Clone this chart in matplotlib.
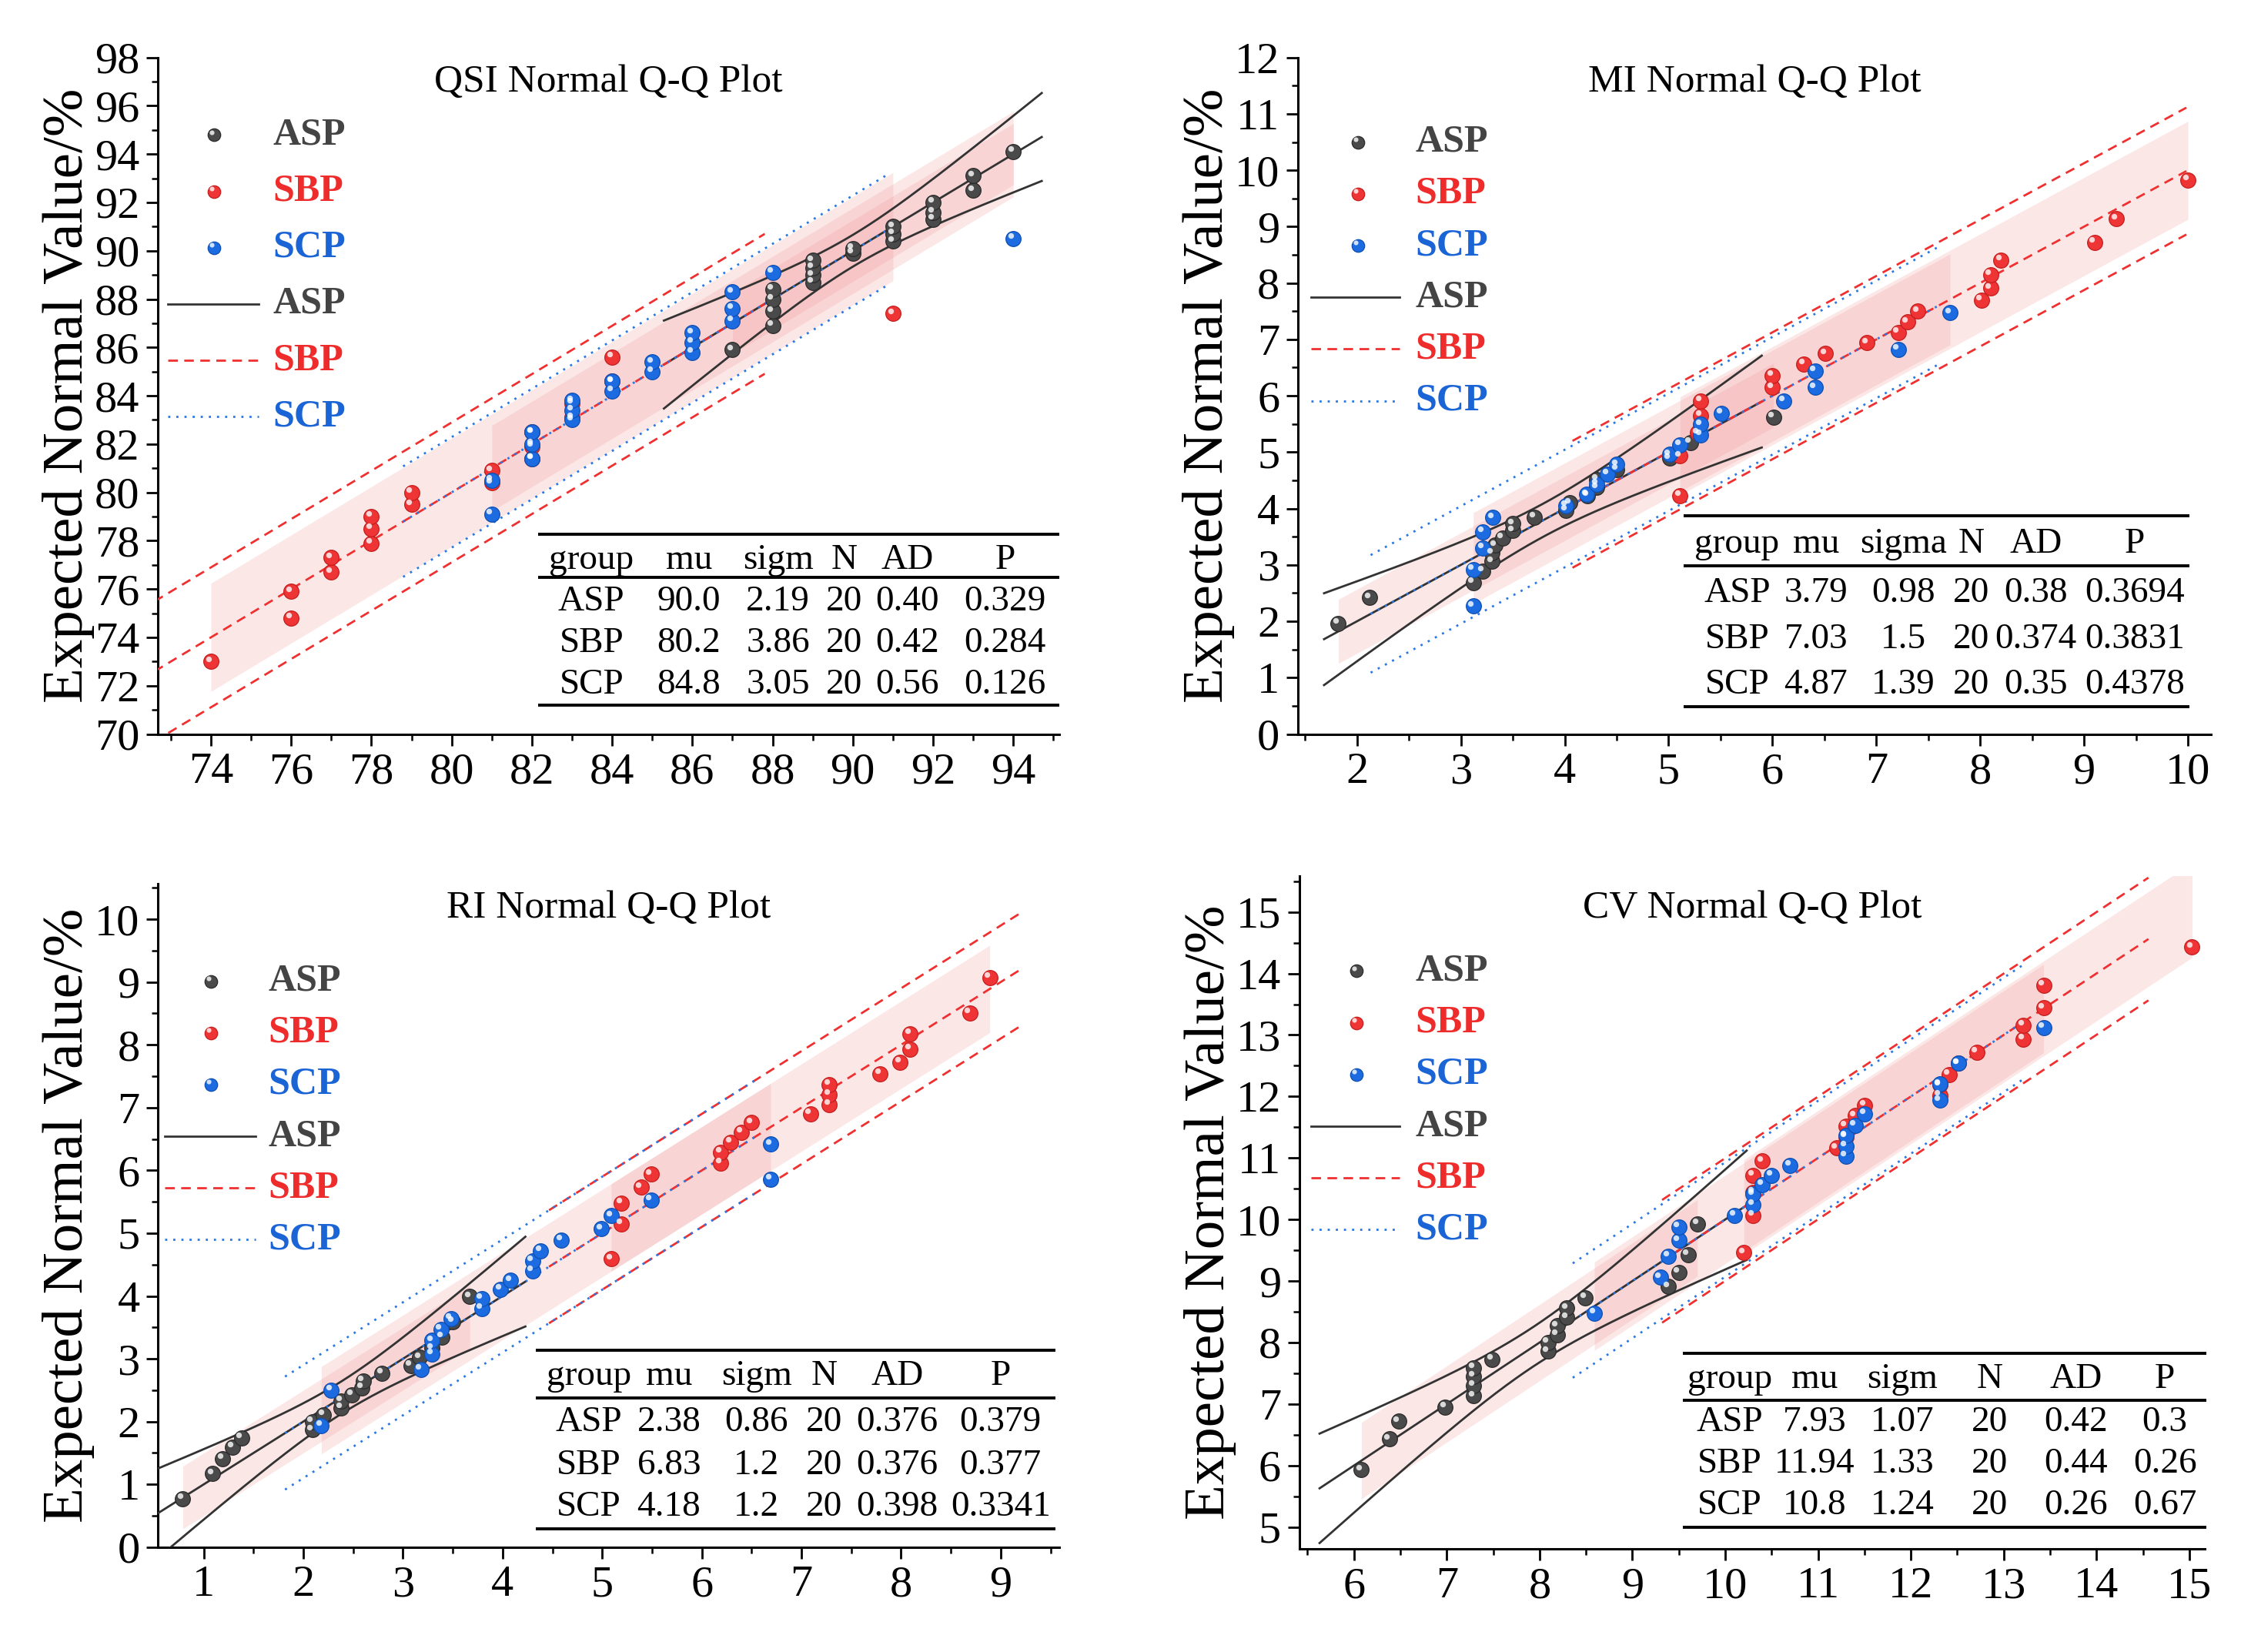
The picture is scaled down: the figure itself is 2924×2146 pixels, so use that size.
"""
Normal Q-Q plots of QSI, MI, RI and CV for the ASP, SBP and SCP groups
"""

import numpy as np
import matplotlib.pyplot as plt
import matplotlib.transforms as mtransforms
from matplotlib.ticker import MultipleLocator

plt.rcParams['font.family'] = ['Liberation Serif', 'DejaVu Serif']

GROUPS = ['ASP', 'SBP', 'SCP']

# ---------------- data ----------------
# QSI
qsi_asp_x = [87, 88, 88, 88, 88, 89, 89, 89, 89, 90, 90, 91, 91, 91, 92, 92, 92, 93, 93, 94]
qsi_asp_y = [85.9, 86.9, 87.5, 88.0, 88.4, 88.7, 89.0, 89.3, 89.6, 89.9,
             90.1, 90.4, 90.7, 91.0, 91.3, 91.6, 92.0, 92.5, 93.1, 94.1]
qsi_sbp_x = [74, 76, 76, 77, 77, 78, 78, 78, 79, 79, 81, 81, 82, 82, 82, 83, 83, 84, 84, 91]
qsi_sbp_y = [73.0, 74.8, 75.9, 76.7, 77.3, 77.9, 78.5, 79.0, 79.5, 80.0,
             80.4, 80.9, 81.4, 81.9, 82.5, 83.1, 83.7, 84.6, 85.6, 87.4]
qsi_scp_x = [81, 81, 82, 82, 82, 83, 83, 83, 84, 84, 85, 85, 86, 86, 86, 87, 87, 87, 88, 94]
qsi_scp_y = [79.1, 80.5, 81.4, 82.0, 82.5, 83.0, 83.4, 83.8, 84.2, 84.6,
             85.0, 85.4, 85.8, 86.2, 86.6, 87.1, 87.6, 88.3, 89.1, 90.5]
qsi_mu = ['90.0', '80.2', '84.8']
qsi_sigma = ['2.19', '3.86', '3.05']
qsi_ad = ['0.40', '0.42', '0.56']
qsi_p = ['0.329', '0.284', '0.126']

# MI
mi_asp_x = [1.82, 2.12, 3.12, 3.21, 3.30, 3.30, 3.33, 3.40, 3.50, 3.50,
            3.71, 4.01, 4.05, 4.22, 4.31, 4.31, 4.50, 5.01, 5.21, 6.01]
mi_asp_y = [1.96, 2.42, 2.69, 2.89, 3.06, 3.21, 3.35, 3.48, 3.61, 3.73,
            3.85, 3.97, 4.10, 4.23, 4.37, 4.52, 4.69, 4.89, 5.17, 5.62]
mi_sbp_x = [5.11, 5.11, 5.28, 5.31, 5.31, 6.00, 6.00, 6.30, 6.51, 6.91,
            7.21, 7.30, 7.40, 8.01, 8.10, 8.10, 8.20, 9.10, 9.31, 10.0]
mi_sbp_y = [4.23, 4.93, 5.34, 5.65, 5.91, 6.15, 6.36, 6.56, 6.75, 6.94,
            7.12, 7.31, 7.50, 7.70, 7.91, 8.15, 8.41, 8.72, 9.14, 9.83]
mi_scp_x = [3.12, 3.12, 3.21, 3.21, 3.31, 4.01, 4.21, 4.31, 4.41, 4.50,
            5.01, 5.11, 5.31, 5.31, 5.51, 6.11, 6.41, 6.41, 7.21, 7.71]
mi_scp_y = [2.27, 2.92, 3.30, 3.59, 3.84, 4.05, 4.25, 4.43, 4.61, 4.78,
            4.96, 5.13, 5.31, 5.49, 5.69, 5.91, 6.15, 6.44, 6.82, 7.47]
mi_mu = ['3.79', '7.03', '4.87']
mi_sigma = ['0.98', '1.5', '1.39']
mi_ad = ['0.38', '0.374', '0.35']
mi_p = ['0.3694', '0.3831', '0.4378']

# RI
ri_asp_x = [0.79, 1.09, 1.19, 1.29, 1.38, 2.09, 2.09, 2.20, 2.38, 2.38,
            2.49, 2.59, 2.60, 2.79, 3.08, 3.17, 3.29, 3.39, 3.50, 3.67]
ri_asp_y = [0.77, 1.17, 1.41, 1.59, 1.74, 1.87, 2.00, 2.11, 2.22, 2.33,
            2.43, 2.54, 2.65, 2.77, 2.89, 3.02, 3.17, 3.35, 3.59, 3.99]
ri_sbp_x = [5.09, 5.19, 5.19, 5.39, 5.49, 6.19, 6.19, 6.29, 6.40, 6.50,
            7.09, 7.28, 7.28, 7.28, 7.79, 7.99, 8.09, 8.09, 8.69, 8.89]
ri_sbp_y = [4.59, 5.15, 5.48, 5.73, 5.94, 6.12, 6.29, 6.45, 6.61, 6.76,
            6.90, 7.05, 7.21, 7.37, 7.54, 7.72, 7.93, 8.18, 8.51, 9.07]
ri_scp_x = [2.18, 2.28, 3.18, 3.29, 3.29, 3.38, 3.48, 3.79, 3.79, 3.98,
            4.08, 4.30, 4.30, 4.38, 4.59, 4.99, 5.09, 5.49, 6.69, 6.69]
ri_scp_y = [1.94, 2.50, 2.83, 3.08, 3.29, 3.47, 3.64, 3.80, 3.96, 4.11,
            4.25, 4.40, 4.56, 4.72, 4.89, 5.07, 5.28, 5.53, 5.86, 6.42]
ri_mu = ['2.38', '6.83', '4.18']
ri_sigma = ['0.86', '1.2', '1.2']
ri_ad = ['0.376', '0.376', '0.398']
ri_p = ['0.379', '0.377', '0.3341']

# CV
cv_asp_x = [6.08, 6.38, 6.48, 6.98, 7.29, 7.29, 7.29, 7.29, 7.49, 8.09,
            8.09, 8.19, 8.19, 8.29, 8.29, 8.49, 9.39, 9.50, 9.60, 9.70]
cv_asp_y = [5.93, 6.43, 6.72, 6.95, 7.13, 7.30, 7.45, 7.59, 7.73, 7.86,
            8.00, 8.13, 8.27, 8.41, 8.56, 8.73, 8.91, 9.14, 9.43, 9.93]
cv_sbp_x = [10.20, 10.30, 10.30, 10.30, 10.40, 11.20, 11.30, 11.30, 11.40, 11.50,
            12.31, 12.31, 12.41, 12.51, 12.71, 13.21, 13.21, 13.43, 13.43, 15.03]
cv_sbp_y = [9.46, 10.07, 10.44, 10.72, 10.95, 11.16, 11.34, 11.52, 11.69, 11.86,
            12.02, 12.19, 12.36, 12.54, 12.72, 12.93, 13.16, 13.44, 13.81, 14.43]
cv_scp_x = [8.59, 9.30, 9.39, 9.50, 9.50, 10.10, 10.30, 10.30, 10.40, 10.50,
            10.70, 11.30, 11.30, 11.30, 11.40, 11.50, 12.31, 12.31, 12.51, 13.43]
cv_scp_y = [8.48, 9.06, 9.40, 9.66, 9.88, 10.07, 10.24, 10.41, 10.57, 10.72,
            10.88, 11.03, 11.19, 11.36, 11.53, 11.72, 11.94, 12.20, 12.54, 13.12]
cv_mu = ['7.93', '11.94', '10.8']
cv_sigma = ['1.07', '1.33', '1.24']
cv_ad = ['0.42', '0.44', '0.26']
cv_p = ['0.3', '0.26', '0.67']

N_SAMPLES = ['20', '20', '20']

# ---------------- styles ----------------
POINT_COLORS = {'ASP': '#4a4a4a', 'SBP': '#ee3434', 'SCP': '#1c6be0'}
EDGE_COLORS = {'ASP': '#2a2a2a', 'SBP': '#c41e1e', 'SCP': '#0e4fb0'}
TEXT_COLORS = {'ASP': '#444444', 'SBP': '#ee2c2c', 'SCP': '#1a64d6'}
LINE_COLORS = {'ASP': '#333333', 'SBP': '#f03030', 'SCP': '#2a78e4'}
LINE_STYLES = {'ASP': '-', 'SBP': (0, (4.5, 3.0)), 'SCP': (0, (1.0, 2.8))}
BAND_COLOR = '#f08a8a'
FIG_W, FIG_H = 1568.0, 1150.0   # layout measured in reference display pixels
DPI = 100

PANELS = [
    dict(name='QSI', box=(110, 40, 738, 511), xlim=(72.68, 95.15), ylim=(70, 98),
         xmaj=2, xmin=1, ymaj=2, ymin=1,
         data=[(qsi_asp_x, qsi_asp_y), (qsi_sbp_x, qsi_sbp_y), (qsi_scp_x, qsi_scp_y)],
         mu=qsi_mu, sigma=qsi_sigma, ad=qsi_ad, p=qsi_p, sig_head='sigm',
         title_y=57, leg=(117, 180, 149, 190, 94, 39.2),
         table=dict(x=(375, 738), lines=(372, 402, 491), head=390, rows=(419, 448, 477),
                    cols=(412, 480, 542, 588, 632, 700))),
    dict(name='MI', box=(904, 40, 1540, 511), xlim=(1.43, 10.22), ylim=(0, 12),
         xmaj=1, xmin=0.5, ymaj=1, ymin=0.5,
         data=[(mi_asp_x, mi_asp_y), (mi_sbp_x, mi_sbp_y), (mi_scp_x, mi_scp_y)],
         mu=mi_mu, sigma=mi_sigma, ad=mi_ad, p=mi_p, sig_head='sigma',
         title_y=57, leg=(913, 975, 946, 986, 99, 36),
         table=dict(x=(1173, 1525), lines=(359, 394, 492), head=379, rows=(413, 445, 477),
                    cols=(1210, 1265, 1326, 1373, 1418, 1487))),
    dict(name='RI', box=(110, 615, 738, 1077), xlim=(0.54, 9.59), ylim=(0, 10.57),
         xmaj=1, xmin=0.5, ymaj=1, ymin=0.5,
         data=[(ri_asp_x, ri_asp_y), (ri_sbp_x, ri_sbp_y), (ri_scp_x, ri_scp_y)],
         mu=ri_mu, sigma=ri_sigma, ad=ri_ad, p=ri_p, sig_head='sigm',
         title_y=632, leg=(115, 178, 147, 187, 683, 36),
         table=dict(x=(373, 735), lines=(940, 973, 1064), head=958, rows=(990, 1020, 1049),
                    cols=(410, 466, 527, 574, 625, 697))),
    dict(name='CV', box=(905, 610, 1536, 1078), xlim=(5.41, 15.17), ylim=(4.65, 15.58),
         xmaj=1, xmin=0.5, ymaj=1, ymin=0.5,
         data=[(cv_asp_x, cv_asp_y), (cv_sbp_x, cv_sbp_y), (cv_scp_x, cv_scp_y)],
         mu=cv_mu, sigma=cv_sigma, ad=cv_ad, p=cv_p, sig_head='sigm',
         title_y=632, leg=(913, 975, 945, 986, 676, 36),
         table=dict(x=(1172, 1537), lines=(942, 975, 1063), head=960, rows=(990, 1019, 1048),
                    cols=(1205, 1264, 1325, 1386, 1446, 1508))),
]


def to_axes(box, px, py):
    """display-pixel position -> axes fraction"""
    left, top, right, bottom = box
    return (px - left) / (right - left), (bottom - py) / (bottom - top)


def draw_balls(ax, fig, x, y, group, size=200, clip=True, transform=None):
    trans = ax.transData if transform is None else transform
    ax.scatter(x, y, s=size, color=POINT_COLORS[group], edgecolors=EDGE_COLORS[group],
               linewidths=0.9, zorder=5, transform=trans, clip_on=clip)
    hl = mtransforms.offset_copy(trans, fig=fig, x=-2.4, y=2.6, units='points')
    ax.scatter(x, y, s=size * 0.14, color='white', alpha=0.8, linewidths=0,
               zorder=6, transform=hl, clip_on=clip)


def draw_panel(fig, pan):
    left, top, right, bottom = pan['box']
    ax = fig.add_axes([left / FIG_W, 1 - bottom / FIG_H,
                       (right - left) / FIG_W, (bottom - top) / FIG_H])
    box = pan['box']

    # confidence bands and reference lines
    for k, g in enumerate(GROUPS):
        mu = float(pan['mu'][k])
        sd = float(pan['sigma'][k])
        gx = np.array(pan['data'][k][0])
        xb = np.linspace(gx.min(), gx.max(), 50)
        ax.fill_between(xb, xb - 0.58 * sd, xb + 0.58 * sd, color=BAND_COLOR,
                        alpha=0.2, linewidth=0, zorder=1)
        if g == 'ASP':
            xl = np.linspace(mu - 2.15 * sd, mu + 2.15 * sd, 200)
            t = (xl - mu) / sd
            half = sd * np.sqrt(0.09 + 0.13 * t ** 2)
        else:
            xl = np.linspace(mu - 1.97 * sd, mu + 1.97 * sd, 200)
            half = 0.75 * sd * np.ones_like(xl)
        for off in (-half, 0 * half, half):
            ax.plot(xl, xl + off, color=LINE_COLORS[g], linestyle=LINE_STYLES[g],
                    lw=2.0, zorder=3)

    # points
    for k, g in enumerate(GROUPS):
        draw_balls(ax, fig, pan['data'][k][0], pan['data'][k][1], g)

    ax.set_xlim(*pan['xlim'])
    ax.set_ylim(*pan['ylim'])
    ax.xaxis.set_major_locator(MultipleLocator(pan['xmaj']))
    ax.xaxis.set_minor_locator(MultipleLocator(pan['xmin']))
    ax.yaxis.set_major_locator(MultipleLocator(pan['ymaj']))
    ax.yaxis.set_minor_locator(MultipleLocator(pan['ymin']))
    for s in ('top', 'right'):
        ax.spines[s].set_visible(False)
    for s in ('left', 'bottom'):
        ax.spines[s].set_linewidth(2.2)
    ax.tick_params(which='major', direction='out', length=11, width=2.0,
                   labelsize=42, pad=6)
    ax.tick_params(which='minor', direction='out', length=6, width=1.8)
    ax.set_ylabel('Expected Normal Value/%', fontsize=54, labelpad=0)

    tx, ty = to_axes(box, 0, pan['title_y'])
    ax.text(0.5, ty, pan['name'] + ' Normal Q-Q Plot', transform=ax.transAxes,
            ha='center', va='center', fontsize=37, zorder=8)

    # legend drawn by hand
    lx0, lx1, mx, txt_x, y0, dy = pan['leg']
    for i in range(6):
        g = GROUPS[i % 3]
        py = y0 + i * dy
        fx, fy = to_axes(box, txt_x, py)
        if i < 3:
            mfx, mfy = to_axes(box, mx, py)
            draw_balls(ax, fig, [mfx], [mfy], g, size=140, clip=False,
                       transform=ax.transAxes)
        else:
            a0, _ = to_axes(box, lx0, py)
            a1, _ = to_axes(box, lx1, py)
            ax.plot([a0, a1], [fy, fy], transform=ax.transAxes, color=LINE_COLORS[g],
                    linestyle=LINE_STYLES[g], lw=2.0, clip_on=False)
        ax.text(fx, fy, g, transform=ax.transAxes, ha='left', va='center',
                fontsize=36, fontweight='bold', color=TEXT_COLORS[g], zorder=8)

    # statistics table
    tb = pan['table']
    a0, _ = to_axes(box, tb['x'][0], 0)
    a1, _ = to_axes(box, tb['x'][1], 0)
    for ly in tb['lines']:
        _, fy = to_axes(box, 0, ly)
        ax.plot([a0, a1], [fy, fy], transform=ax.transAxes, color='black',
                lw=2.8, solid_capstyle='butt', clip_on=False, zorder=8)
    header = ['group', 'mu', pan['sig_head'], 'N', 'AD', 'P']
    rows = [[GROUPS[k], pan['mu'][k], pan['sigma'][k], N_SAMPLES[k],
             pan['ad'][k], pan['p'][k]] for k in range(3)]
    for cells, ry in zip([header] + rows, (tb['head'],) + tuple(tb['rows'])):
        for c, cx in zip(cells, tb['cols']):
            fx, fy = to_axes(box, cx, ry)
            ax.text(fx, fy, c, transform=ax.transAxes, ha='center', va='center',
                    fontsize=34, zorder=8)
    return ax


fig = plt.figure(figsize=(2924 / DPI, 2146 / DPI), dpi=DPI)
fig.patch.set_facecolor('white')
for pan in PANELS:
    draw_panel(fig, pan)

fig.savefig('out.png', dpi=DPI, facecolor='white')
